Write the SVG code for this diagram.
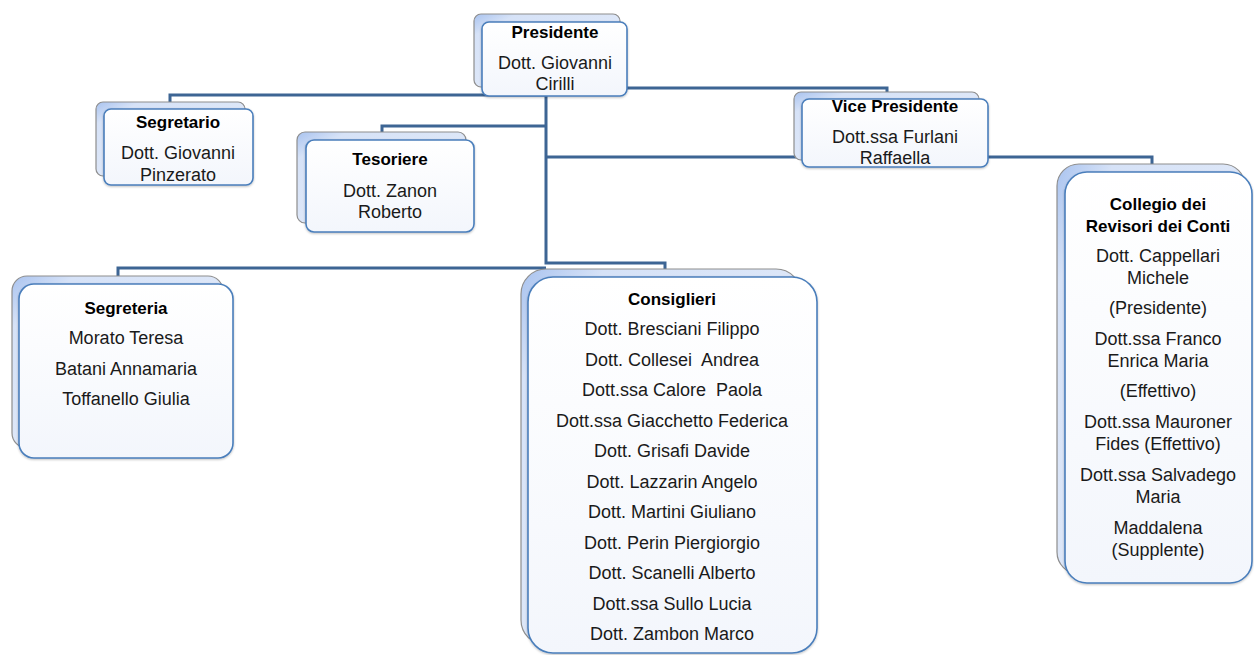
<svg xmlns="http://www.w3.org/2000/svg" width="1254" height="655" viewBox="0 0 1254 655">
<defs>
<linearGradient id="gBack" x1="0" y1="0" x2="1" y2="1">
<stop offset="0" stop-color="#a9c3ef"/>
<stop offset="0.15" stop-color="#d6e2f7"/>
<stop offset="1" stop-color="#e6edf9"/>
</linearGradient>
<linearGradient id="gFront" x1="0" y1="0" x2="0" y2="1">
<stop offset="0" stop-color="#ffffff"/>
<stop offset="1" stop-color="#f3f6fc"/>
</linearGradient>
<filter id="sh" x="-10%" y="-10%" width="120%" height="120%">
<feDropShadow dx="0" dy="1" stdDeviation="1.2" flood-color="#000" flood-opacity="0.25"/>
</filter>
</defs>
<style>
.back{fill:url(#gBack);stroke:#8e8e8e;stroke-width:1.2}
.front{fill:url(#gFront);stroke:#4a7ebb;stroke-width:1.6;filter:url(#sh)}
.conn{fill:none;stroke:#3d6594;stroke-width:3}
text{font-family:"Liberation Sans",Arial,sans-serif;font-size:18px;fill:#1a1a1a;text-anchor:middle;white-space:pre}
.t{font-weight:bold;fill:#000;font-size:17px}
</style>
<rect width="1254" height="655" fill="#ffffff"/>
<g id="connectors">
<path class="conn" d="M546 96 V263 H665 V270"/>
<path class="conn" d="M620 88 H887 V93"/>
<path class="conn" d="M546 95 H170 V103"/>
<path class="conn" d="M546 126 H382 V133"/>
<path class="conn" d="M546 157 H1152 V165"/>
<path class="conn" d="M546 268 H118 V277"/>
</g>
<g id="presidente">
<rect class="back" x="474" y="14" width="146" height="73" rx="7"/>
<rect class="front" x="482" y="22" width="145" height="74" rx="7"/>
<text class="t" x="555" y="38">Presidente</text>
<text x="555" y="69">Dott. Giovanni</text>
<text x="555" y="90">Cirilli</text>
</g>
<g id="segretario">
<rect class="back" x="96" y="102" width="149" height="74" rx="7"/>
<rect class="front" x="104" y="109" width="149" height="76" rx="7"/>
<text class="t" x="178" y="128">Segretario</text>
<text x="178" y="159">Dott. Giovanni</text>
<text x="178" y="181">Pinzerato</text>
</g>
<g id="tesoriere">
<rect class="back" x="297" y="132" width="169" height="91" rx="8"/>
<rect class="front" x="306" y="140" width="168" height="92" rx="8"/>
<text class="t" x="390" y="165">Tesoriere</text>
<text x="390" y="197">Dott. Zanon</text>
<text x="390" y="218">Roberto</text>
</g>
<g id="vicepresidente">
<rect class="back" x="794" y="92" width="185" height="68" rx="7"/>
<rect class="front" x="802" y="99" width="186" height="68" rx="7"/>
<text class="t" x="895" y="112">Vice Presidente</text>
<text x="895" y="143">Dott.ssa Furlani</text>
<text x="895" y="164">Raffaella</text>
</g>
<g id="collegio">
<rect class="back" x="1057" y="164" width="188" height="410" rx="22"/>
<rect class="front" x="1065" y="172" width="187" height="411" rx="22"/>
<text class="t" x="1158" y="210">Collegio dei</text>
<text class="t" x="1158" y="232">Revisori dei Conti</text>
<text x="1158" y="262">Dott. Cappellari</text>
<text x="1158" y="284">Michele</text>
<text x="1158" y="314">(Presidente)</text>
<text x="1158" y="345">Dott.ssa Franco</text>
<text x="1158" y="367">Enrica Maria</text>
<text x="1158" y="397">(Effettivo)</text>
<text x="1158" y="428">Dott.ssa Mauroner</text>
<text x="1158" y="450">Fides (Effettivo)</text>
<text x="1158" y="481">Dott.ssa Salvadego</text>
<text x="1158" y="503">Maria</text>
<text x="1158" y="534">Maddalena</text>
<text x="1158" y="556">(Supplente)</text>
</g>
<g id="segreteria">
<rect class="back" x="12" y="276" width="211" height="172" rx="15"/>
<rect class="front" x="19" y="284" width="214" height="174" rx="15"/>
<text class="t" x="126" y="314">Segreteria</text>
<text x="126" y="344">Morato Teresa</text>
<text x="126" y="375">Batani Annamaria</text>
<text x="126" y="405">Toffanello Giulia</text>
</g>
<g id="consiglieri">
<rect class="back" x="521" y="269" width="280" height="376" rx="25"/>
<rect class="front" x="528" y="277" width="289" height="376" rx="25"/>
<text class="t" x="672" y="305">Consiglieri</text>
<text x="672" y="335">Dott. Bresciani Filippo</text>
<text x="672" y="366">Dott. Collesei  Andrea</text>
<text x="672" y="396">Dott.ssa Calore  Paola</text>
<text x="672" y="427">Dott.ssa Giacchetto Federica</text>
<text x="672" y="457">Dott. Grisafi Davide</text>
<text x="672" y="488">Dott. Lazzarin Angelo</text>
<text x="672" y="518">Dott. Martini Giuliano</text>
<text x="672" y="549">Dott. Perin Piergiorgio</text>
<text x="672" y="579">Dott. Scanelli Alberto</text>
<text x="672" y="610">Dott.ssa Sullo Lucia</text>
<text x="672" y="640">Dott. Zambon Marco</text>
</g>
</svg>
